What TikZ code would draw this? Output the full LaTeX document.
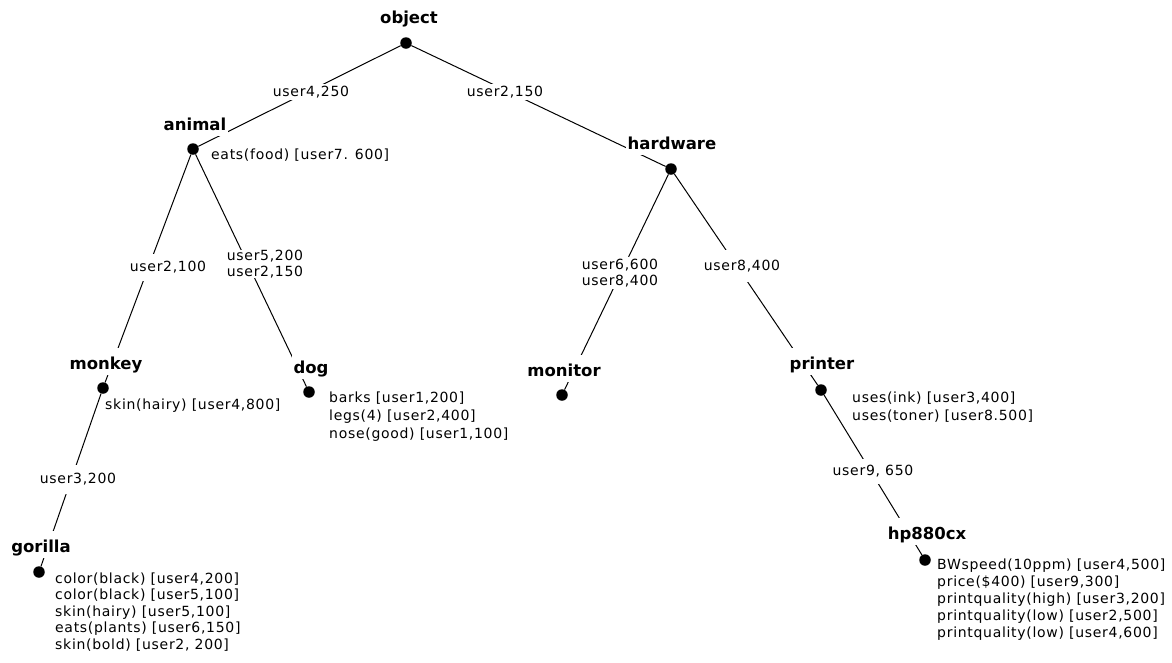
\documentclass[tikz,border=0pt]{standalone}
\usepackage{fontspec}
\setmainfont{DejaVu Sans}
\newfontfamily\lblfont[LetterSpace=5]{DejaVu Sans}
\pgfdeclarelayer{bg}
\pgfsetlayers{bg,main}
\tikzset{
  dot/.style={circle, fill=black, inner sep=0pt, minimum size=11.5pt},
  ttl/.style={fill=white, font=\bfseries\fontsize{16.5}{18}\selectfont, text height=18pt, text depth=3pt, inner ysep=3pt, inner xsep=2pt, anchor=base},
  lbl/.style={fill=white, font=\lblfont\fontsize{14}{16.5}\selectfont, inner xsep=2pt, inner ysep=0pt, align=center},
  attr/.style={font=\lblfont\fontsize{14}{17}\selectfont, align=left, anchor=north west, inner sep=0pt},
  edge/.style={line width=1pt, black}
}
\begin{document}
\begin{tikzpicture}[x=1pt,y=-1pt]
\useasboundingbox (0,0) rectangle (1172,662);
% dots
\node[dot] (object) at (406,43) {};
\node[dot] (animal) at (193,149) {};
\node[dot] (hardware) at (671,169) {};
\node[dot] (monkey) at (103,388) {};
\node[dot] (dog) at (309,392) {};
\node[dot] (monitor) at (562,395) {};
\node[dot] (printer) at (821,390) {};
\node[dot] (gorilla) at (39,572) {};
\node[dot] (hp) at (925,560) {};
% titles
\node[ttl] (t-object) at (409,23) {object};
\node[ttl] (t-animal) at (195,130) {animal};
\node[ttl] (t-hardware) at (672,149) {hardware};
\node[ttl] (t-monkey) at (106,369) {monkey};
\node[ttl] (t-dog) at (311,373) {dog};
\node[ttl] (t-monitor) at (564,376) {monitor};
\node[ttl] (t-printer) at (822,369) {printer};
\node[ttl] (t-gorilla) at (41,552) {gorilla};
\node[ttl] (t-hp) at (927,539) {hp880cx};
% edge labels
\node[lbl, minimum height=16pt] (l-oa) at (311,92) {user4,250};
\node[lbl, minimum height=16pt] (l-oh) at (505,92) {user2,150};
\node[lbl, minimum height=27pt] (l-am) at (168,267) {user2,100};
\node[lbl, minimum height=28pt] (l-ad) at (265,264) {user5,200\\user2,150};
\node[lbl, minimum height=32pt] (l-hm) at (620,273) {user6,600\\user8,400};
\node[lbl, minimum height=32pt] (l-hp) at (742,266) {user8,400};
\node[lbl, minimum height=29pt] (l-mg) at (78,479) {user3,200};
\node[lbl, minimum height=25pt] (l-ph) at (873,471) {user9, 650};
% attributes
\node[attr] (a-animal) at (211,148.5) {eats(food) [user7. 600]};
\node[attr] (a-monkey) at (105,398.5) {skin(hairy) [user4,800]};
\node[attr, font=\lblfont\fontsize{14}{18}\selectfont] (a-dog) at (329,391.5) {barks [user1,200]\\legs(4) [user2,400]\\nose(good) [user1,100]};
\node[attr, font=\lblfont\fontsize{14}{18}\selectfont] (a-printer) at (852,391.5) {uses(ink) [user3,400]\\uses(toner) [user8.500]};
\node[attr, font=\lblfont\fontsize{14}{16.5}\selectfont] (a-gorilla) at (55,572.5) {color(black) [user4,200]\\color(black) [user5,100]\\skin(hairy) [user5,100]\\eats(plants) [user6,150]\\skin(bold) [user2, 200]};
\node[attr] (a-hp) at (937,558.5) {BWspeed(10ppm) [user4,500]\\price(\$400) [user9,300]\\printquality(high) [user3,200]\\printquality(low) [user2,500]\\printquality(low) [user4,600]};
% edges
\begin{pgfonlayer}{bg}
\draw[edge] (object) -- (animal);
\draw[edge] (object) -- (hardware);
\draw[edge] (animal) -- (monkey);
\draw[edge] (animal) -- (dog);
\draw[edge] (hardware) -- (monitor);
\draw[edge] (hardware) -- (printer);
\draw[edge] (monkey) -- (gorilla);
\draw[edge] (printer) -- (hp);
\end{pgfonlayer}
\end{tikzpicture}
\end{document}
